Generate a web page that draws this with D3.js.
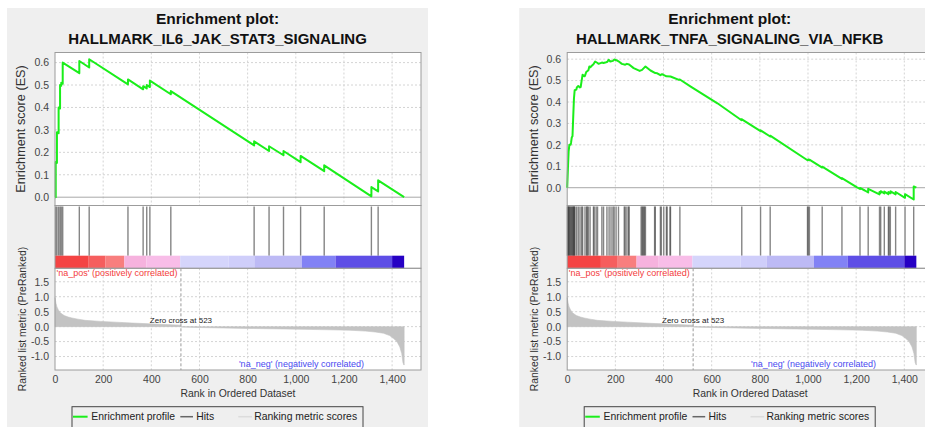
<!DOCTYPE html>
<html>
<head>
<meta charset="utf-8">
<script src="https://cdn.jsdelivr.net/npm/d3@7"></script>
<style>
  body { margin: 0; background: #ffffff; }
  svg { display: block; font-family: "Liberation Sans", Arial, sans-serif; }
</style>
</head>
<body>
<svg id="chart" width="925" height="427"></svg>
<script>
// ---- shared axis ticks ----
const rankTicks = [0, 200, 400, 600, 800, 1000, 1200, 1400];
const esTicks = [0, 0.1, 0.2, 0.3, 0.4, 0.5, 0.6];
const metricTicks = [-1.0, -0.5, 0, 0.5, 1.0, 1.5];
const zeroCross = 523;

// ---- ranked list metric (same pre-ranked list for both gene sets) ----
const metricRank = [0, 4, 8, 14, 22, 38, 55, 70, 95, 125, 190, 250, 320, 390, 460, 522,
  523, 600, 700, 800, 950, 1100, 1225, 1290, 1330, 1364, 1390, 1405, 1420, 1432, 1440, 1445, 1449, 1450];
const metricValue = [0.97, 0.78, 0.66, 0.56, 0.46, 0.37, 0.32, 0.29, 0.25, 0.21, 0.175, 0.15, 0.12, 0.095, 0.07, 0.05,
  -0.015, -0.03, -0.045, -0.06, -0.078, -0.1, -0.12, -0.15, -0.18, -0.22, -0.3, -0.39, -0.5, -0.68, -0.9, -1.2, -1.28, -1.28];

// ---- heat-map bar bands along the ranked list ----
const barStart = [0, 140, 210, 288, 380, 520, 720, 828, 1025, 1165, 1400];
const barEnd = [140, 210, 288, 380, 520, 720, 828, 1025, 1165, 1400, 1450];
const barColor = ["#f44444", "#f65e5e", "#f87e7e", "#f6b2de", "#f8bde8", "#d5d5fb",
  "#cfcefa", "#bdbaf5", "#8282f5", "#5e4ee6", "#2600c4"];

// ---- HALLMARK_IL6_JAK_STAT3_SIGNALING ----
const il6Hits = [3, 8, 15, 21, 26, 32, 101, 142, 303, 366, 381, 394, 481, 827, 889, 949, 1020, 1118, 1314, 1342];
const il6EsRank = [0, 3, 3, 8, 8, 15, 15, 21, 21, 26, 26, 32, 32, 101, 101, 142, 142, 303, 303, 366, 366,
  381, 381, 394, 394, 481, 481, 827, 827, 889, 889, 949, 949, 1020, 1020, 1118, 1118, 1314, 1314, 1342, 1342, 1450];
const il6EsValue = [0, 0, 0.157, 0.153, 0.29, 0.285, 0.40, 0.396, 0.50, 0.497, 0.51, 0.506, 0.60, 0.553, 0.607, 0.578, 0.615,
  0.503, 0.525, 0.481, 0.495, 0.485, 0.50, 0.491, 0.52, 0.459, 0.473, 0.231, 0.249, 0.206, 0.227, 0.187, 0.206,
  0.156, 0.184, 0.116, 0.142, 0.004, 0.045, 0.026, 0.075, 0.0];

// ---- HALLMARK_TNFA_SIGNALING_VIA_NFKB ----
const tnfaHits = [1, 3, 5, 7, 9, 12, 15, 18, 21, 24, 26, 28, 30, 32, 39, 46, 53, 60, 64, 74, 81, 83, 88, 95,
  109, 112, 120, 126, 144, 151, 165, 174, 182, 190, 195, 203, 213, 237, 241, 248, 255, 257,
  307, 311, 314, 318, 321, 325, 363, 366, 387, 391, 401, 412, 415, 427, 429, 468,
  725, 803, 843, 998, 1001, 1006, 1059, 1141, 1216, 1250, 1297, 1302, 1317, 1334, 1337, 1342, 1364, 1403, 1439];
const tnfaEsRank = [0, 3, 6, 9, 14, 16, 19, 22, 25, 28, 31, 38, 40, 46, 53, 56, 60, 64, 72, 74, 79, 88, 92, 96,
  102, 109, 116, 126, 130, 144, 151, 158, 167, 172, 179, 190, 195, 207, 213, 227, 241, 248, 257, 276, 301,
  311, 318, 325, 346, 366, 374, 387, 394, 412, 429, 464, 468, 513, 624, 724, 724, 803, 803, 843, 843,
  998, 998, 1001, 1001, 1006, 1006, 1059, 1059, 1141, 1141, 1202, 1216, 1216, 1236, 1250, 1250,
  1297, 1297, 1302, 1302, 1317, 1317, 1334, 1334, 1343, 1343, 1364, 1364, 1403, 1403, 1439, 1439, 1450];
const tnfaEsValue = [0, 0.09, 0.17, 0.2, 0.2, 0.21, 0.235, 0.24, 0.33, 0.415, 0.455, 0.458, 0.468, 0.475, 0.468,
  0.47, 0.5, 0.527, 0.52, 0.523, 0.54, 0.548, 0.566, 0.562, 0.569, 0.576, 0.589, 0.582, 0.578, 0.584, 0.582,
  0.584, 0.588, 0.597, 0.589, 0.592, 0.598, 0.594, 0.59, 0.578, 0.574, 0.578, 0.575, 0.558, 0.545,
  0.55, 0.558, 0.566, 0.547, 0.535, 0.534, 0.525, 0.53, 0.52, 0.519, 0.503, 0.505, 0.472, 0.394, 0.315, 0.32,
  0.264, 0.268, 0.239, 0.243, 0.128, 0.131, 0.129, 0.132, 0.128, 0.131, 0.094, 0.098, 0.041, 0.045,
  0.003, -0.006, -0.001, -0.013, -0.022, -0.005, -0.031, -0.02, -0.024, -0.016, -0.027, -0.018,
  -0.03, -0.02, -0.026, -0.017, -0.031, -0.02, -0.047, -0.03, -0.055, 0.006, 0.0];

const legendLabels = ["Enrichment profile", "Hits", "Ranking metric scores"];
const posLabel = "'na_pos' (positively correlated)";
const negLabel = "'na_neg' (negatively correlated)";

const svg = d3.select("#chart");
const fmt1 = d => d.toFixed(1);

function drawPanel(cfg) {
  const g = svg.append("g");
  const px = cfg.panelX;
  const plotL = px + 48, plotR = px + 414;
  const esTop = 52.5, esBot = 205.5, hitTop = 205.5, barTop = 255.7, barBot = 268.3, metBot = 370;
  const cx = px + 210.5;

  // panel background
  g.append("rect").attr("x", px).attr("y", 8).attr("width", 421).attr("height", 430).attr("fill", "#efefef");

  // title
  g.append("text").attr("x", cx).attr("y", 24).attr("text-anchor", "middle")
    .attr("font-size", 15.5).attr("font-weight", "bold").attr("fill", "#111").text("Enrichment plot:");
  g.append("text").attr("x", cx).attr("y", 44).attr("text-anchor", "middle")
    .attr("font-size", 15).attr("font-weight", "bold").attr("fill", "#111").text(cfg.title);

  const x = d3.scaleLinear().domain([0, 1520]).range([plotL, plotR]);
  const yEs = d3.scaleLinear().domain(cfg.esDomain).range([esBot, esTop]);
  const yMet = d3.scaleLinear().domain([-1.45, 1.95]).range([metBot, barBot]);

  // plot backgrounds
  g.append("rect").attr("x", plotL).attr("y", esTop).attr("width", plotR - plotL).attr("height", metBot - esTop).attr("fill", "#fff");

  const grid = "#d4d4d4";
  // ES grid
  g.append("g").selectAll("line").data(esTicks.filter(t => t !== 0)).join("line")
    .attr("x1", plotL).attr("x2", plotR).attr("y1", d => yEs(d)).attr("y2", d => yEs(d))
    .attr("stroke", grid).attr("stroke-dasharray", "2,2");
  g.append("g").selectAll("line").data(rankTicks.filter(t => t !== 0)).join("line")
    .attr("x1", d => x(d)).attr("x2", d => x(d)).attr("y1", esTop).attr("y2", esBot)
    .attr("stroke", grid).attr("stroke-dasharray", "2,2");
  // metric grid
  g.append("g").selectAll("line").data(metricTicks).join("line")
    .attr("x1", plotL).attr("x2", plotR).attr("y1", d => yMet(d)).attr("y2", d => yMet(d))
    .attr("stroke", grid).attr("stroke-dasharray", "2,2");
  g.append("g").selectAll("line").data(rankTicks.filter(t => t !== 0)).join("line")
    .attr("x1", d => x(d)).attr("x2", d => x(d)).attr("y1", barBot).attr("y2", metBot)
    .attr("stroke", grid).attr("stroke-dasharray", "2,2");

  // ES zero line
  g.append("line").attr("x1", plotL).attr("x2", plotR).attr("y1", yEs(0)).attr("y2", yEs(0))
    .attr("stroke", "#a8a8a8").attr("stroke-width", 1);

  // enrichment profile
  const esPts = cfg.esRank.map((r, i) => [r, cfg.esValue[i]]);
  g.append("path").datum(esPts)
    .attr("d", d3.line().x(d => x(d[0])).y(d => yEs(d[1])))
    .attr("fill", "none").attr("stroke", "#1aee1a").attr("stroke-width", 2).attr("stroke-linejoin", "round");

  // hits
  g.append("g").selectAll("line").data(cfg.hits).join("line")
    .attr("x1", d => x(d)).attr("x2", d => x(d)).attr("y1", hitTop + 1).attr("y2", barTop)
    .attr("stroke", "#333").attr("stroke-opacity", 0.6).attr("stroke-width", 1.4);

  // heat-map bar
  g.append("g").selectAll("rect").data(barStart).join("rect")
    .attr("x", (d, i) => x(d)).attr("width", (d, i) => x(barEnd[i]) - x(d))
    .attr("y", barTop).attr("height", barBot - barTop)
    .attr("fill", (d, i) => barColor[i]);

  // ranked list metric
  const metPts = metricRank.map((r, i) => [r, metricValue[i]]);
  g.append("path").datum(metPts)
    .attr("d", d3.area().x(d => x(d[0])).y0(yMet(0)).y1(d => yMet(d[1])))
    .attr("fill", "#c3c3c3").attr("stroke", "#c3c3c3").attr("stroke-width", 0.6);

  // zero cross marker
  g.append("line").attr("x1", x(zeroCross)).attr("x2", x(zeroCross)).attr("y1", barBot).attr("y2", metBot)
    .attr("stroke", "#9a9a9a").attr("stroke-dasharray", "3,2");
  g.append("text").attr("x", x(zeroCross)).attr("y", 323).attr("text-anchor", "middle")
    .attr("font-size", 8).attr("fill", "#222").text("Zero cross at " + zeroCross);

  g.append("text").attr("x", plotL + 1.5).attr("y", 275.5).attr("font-size", 9).attr("fill", "#f33c3c").text(posLabel);
  g.append("text").attr("x", x(1283)).attr("y", 367).attr("text-anchor", "end")
    .attr("font-size", 9).attr("fill", "#4a4af0").text(negLabel);

  // subplot outlines
  const outline = "#9c9c9c";
  [[esTop, esBot], [hitTop, barBot], [barBot, metBot]].forEach(([a, b]) => {
    g.append("rect").attr("x", plotL).attr("y", a).attr("width", plotR - plotL).attr("height", b - a)
      .attr("fill", "none").attr("stroke", outline).attr("stroke-width", 1);
  });

  // axes
  const styleAxis = sel => {
    sel.select(".domain").remove();
    sel.selectAll("text").attr("font-size", 10.5).attr("fill", "#444")
      .attr("font-family", "\"Liberation Sans\", Arial, sans-serif");
  };
  g.append("g").attr("transform", `translate(${plotL},0)`)
    .call(d3.axisLeft(yEs).tickValues(esTicks).tickFormat(fmt1).tickSize(0).tickPadding(6)).call(styleAxis);
  g.append("g").attr("transform", `translate(${plotL},0)`)
    .call(d3.axisLeft(yMet).tickValues(metricTicks).tickFormat(fmt1).tickSize(0).tickPadding(6)).call(styleAxis);
  g.append("g").attr("transform", `translate(0,${metBot})`)
    .call(d3.axisBottom(x).tickValues(rankTicks).tickFormat(d3.format(",")).tickSize(0).tickPadding(6)).call(styleAxis);

  // axis titles (rotated; centre line about 18 px right of the panel edge)
  g.append("text").attr("transform", `translate(${px + 14},129) rotate(-90)`).attr("text-anchor", "middle")
    .attr("dy", "0.35em").attr("font-size", 12.7).attr("fill", "#333").text("Enrichment score (ES)");
  g.append("text").attr("transform", `translate(${px + 15},319) rotate(-90)`).attr("text-anchor", "middle")
    .attr("dy", "0.35em").attr("font-size", 10.4).attr("fill", "#333").text("Ranked list metric (PreRanked)");
  g.append("text").attr("x", (plotL + plotR) / 2).attr("y", 397).attr("text-anchor", "middle")
    .attr("font-size", 10.4).attr("fill", "#333").text("Rank in Ordered Dataset");

  // legend
  const lx = cx - 145.5, ly = 406.7;
  g.append("rect").attr("x", lx).attr("y", ly).attr("width", 291).attr("height", 21)
    .attr("fill", "none").attr("stroke", "#444").attr("stroke-width", 1);
  const items = [
    { x0: 1, x1: 15.6, tx: 19.3, color: "#1aee1a", w: 2 },
    { x0: 108.3, x1: 121, tx: 124.3, color: "#666", w: 1.5 },
    { x0: 166.3, x1: 180, tx: 182.3, color: "#dcdcdc", w: 1.5 }
  ];
  items.forEach((it, i) => {
    g.append("line").attr("x1", lx + it.x0).attr("x2", lx + it.x1).attr("y1", ly + 10).attr("y2", ly + 10)
      .attr("stroke", it.color).attr("stroke-width", it.w);
    g.append("text").attr("x", lx + it.tx).attr("y", ly + 13.7).attr("font-size", 10.4).attr("fill", "#222")
      .text(legendLabels[i]);
  });
}

drawPanel({
  panelX: 7,
  title: "HALLMARK_IL6_JAK_STAT3_SIGNALING",
  esDomain: [-0.037, 0.645],
  hits: il6Hits, esRank: il6EsRank, esValue: il6EsValue
});
drawPanel({
  panelX: 519.2,
  title: "HALLMARK_TNFA_SIGNALING_VIA_NFKB",
  esDomain: [-0.083, 0.631],
  hits: tnfaHits, esRank: tnfaEsRank, esValue: tnfaEsValue
});
</script>
</body>
</html>
